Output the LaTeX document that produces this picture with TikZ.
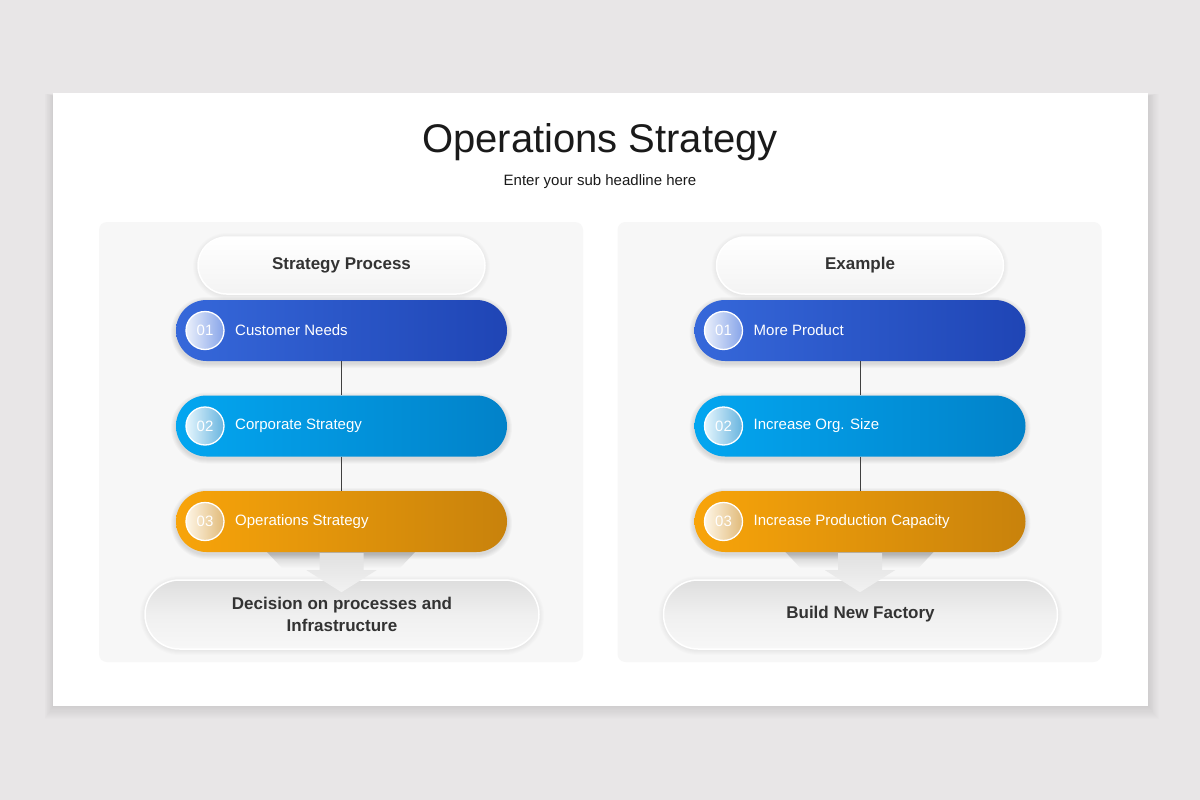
\documentclass[tikz,border=0pt]{standalone}
\usepackage{fontspec}
\setmainfont{Liberation Sans}
\usetikzlibrary{calc}
\definecolor{bg}{HTML}{E8E6E7}
\definecolor{panel}{HTML}{F7F7F7}
\definecolor{txt}{HTML}{333333}
\definecolor{ttl}{HTML}{1A1A1A}
\definecolor{blueL}{HTML}{3668DA}
\definecolor{blueR}{HTML}{1F45B5}
\definecolor{cyanL}{HTML}{03A6F0}
\definecolor{cyanR}{HTML}{0282C9}
\definecolor{orgL}{HTML}{F8A40A}
\definecolor{orgR}{HTML}{C8820C}
\tikzset{
  bar/.style={minimum width=331pt, minimum height=61pt, rounded corners=30.5pt, inner sep=0pt},
  headpill/.style={minimum width=287pt, minimum height=57pt, rounded corners=28.5pt, inner sep=0pt,
    top color=white, bottom color=panel!97!gray, draw=white, line width=1.5pt,
    font=\fontsize{17}{20}\selectfont\bfseries, text=txt},
  basepill/.style={minimum width=394pt, minimum height=69pt, rounded corners=34.5pt, inner sep=0pt,
    top color=black!13, bottom color=black!3, middle color=black!6, draw=white, line width=1.5pt,
    font=\fontsize{17}{22}\selectfont\bfseries, text=txt, align=center},
  numcirc/.style={circle, minimum size=38pt, inner sep=0pt, draw=white, line width=1.3pt,
    text=white, font=\fontsize{15}{18}\selectfont},
  bartext/.style={anchor=west, text=white, font=\fontsize{15}{18}\selectfont, inner sep=0pt},
  conn/.style={draw=black!75, line width=1pt},
  blockarrow/.style={top color=black!12, bottom color=black!5},
}
% soft shadow: cx cy w h dy opacity layers
\newcommand{\softshadow}[7]{%
  \foreach \k in {1,...,#7}{%
    \pgfmathsetmacro{\rr}{min(#3,#4)/2+\k}%
    \fill[black, opacity=#6, rounded corners=\rr pt]
      ({#1-#3/2-\k},{#2-#4/2-\k+#5}) rectangle ({#1+#3/2+\k},{#2+#4/2+\k+#5});
  }%
}
\newcommand{\drawpanel}[7]{% #1 prefix, #2 x offset, #3 header, #4-#6 bar texts, #7 bottom
  \begin{scope}[xshift=#2]
  \fill[panel, rounded corners=8pt] (99,222) rectangle (583,662);
  \softshadow{341.5}{265.5}{287}{57}{1}{0.012}{5}
  \node[headpill] (#1h) at (341.5,265.5) {#3};
  \softshadow{341.5}{330.5}{331}{61}{2}{0.022}{5}
  \node[bar, left color=blueL, right color=blueR] (#1b1) at (341.5,330.5) {};
  \softshadow{341.5}{426}{331}{61}{2}{0.022}{5}
  \node[bar, left color=cyanL, right color=cyanR] (#1b2) at (341.5,426) {};
  \softshadow{342}{614.5}{394}{69}{1}{0.012}{5}
  \node[basepill] (#1d) at (342,614.5) {#7};
  % shadow under third bar
  \shade[top color=black!22, bottom color=panel] (266,551) -- (416,551) -- (400,568) -- (282,568) -- cycle;
  \softshadow{341.5}{521.5}{331}{61}{2}{0.022}{5}
  \node[bar, left color=orgL, right color=orgR] (#1b3) at (341.5,521.5) {};
  \draw[conn] (#1b1.south) -- (#1b2.north);
  \draw[conn] (#1b2.south) -- (#1b3.north);
  \node[numcirc, left color=white!90!blueL, right color=white!40!blueL] (#1c1) at (205,330.5) {01};
  \node[numcirc, left color=white!90!cyanL, right color=white!40!cyanR] (#1c2) at (205,426) {02};
  \node[numcirc, left color=white!90!orgL, right color=white!45!orgR] (#1c3) at (205,521.5) {03};
  \node[bartext] (#1t1) at (235,330.5) {#4};
  \node[bartext] (#1t2) at (235,426) {#5};
  \node[bartext] (#1t3) at (235,521.5) {#6};
  \shade[blockarrow] ($(#1b3.south)+(-22,1)$) -- ($(#1b3.south)+(22,1)$) -- ($(#1b3.south)+(22,18)$)
     -- ($(#1b3.south)+(35,18)$) -- ($(#1b3.south)+(0,40)$) -- ($(#1b3.south)+(-35,18)$)
     -- ($(#1b3.south)+(-22,18)$) -- cycle;
  \end{scope}
}
\begin{document}
\begin{tikzpicture}[x=1pt,y=-1pt]
\useasboundingbox (0,0) rectangle (1200,800);
\fill[bg] (0,0) rectangle (1200,800);
\foreach \k in {1,...,12}{
  \fill[black, opacity=0.009] ({53-\k*0.7},{93-\k*0.2+3}) rectangle ({1148+\k*0.9},{706+\k*1.1});
}
\fill[white] (53,93) rectangle (1148,706);
\node[text=ttl, font=\fontsize{40}{46}\selectfont] (title) at (600,142) {Operations Strategy};
\node[text=ttl, font=\fontsize{15}{18}\selectfont] (sub) at (600,182) {Enter your sub headline here};
\drawpanel{l}{0pt}{Strategy Process}{Customer Needs}{Corporate Strategy}{Operations Strategy}{Decision on processes and\\Infrastructure}
\drawpanel{r}{518.5pt}{Example}{More Product}{Increase Org. Size}{Increase Production Capacity}{Build New Factory}
\end{tikzpicture}
\end{document}
